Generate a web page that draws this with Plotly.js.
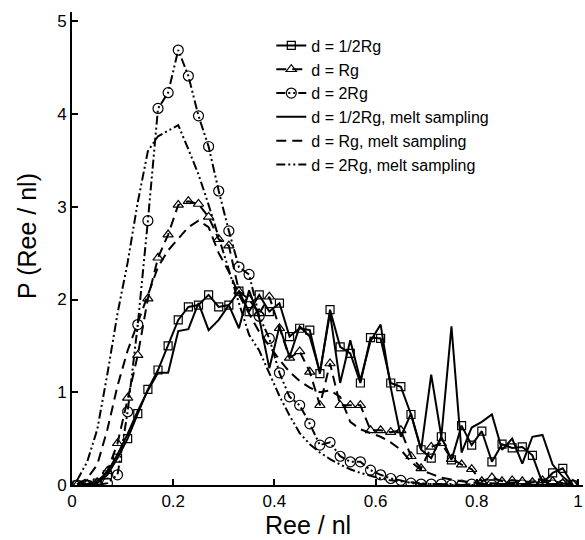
<!DOCTYPE html>
<html>
<head>
<meta charset="utf-8">
<script src="https://cdn.plot.ly/plotly-3.0.1.min.js"></script>
<style>html,body{margin:0;padding:0;background:#fff;}#chart{width:585px;height:540px;}</style>
</head>
<body>
<div id="chart"></div>
<script>
// Ree / nl bin centres
const xVals = [0.01,0.03,0.05,0.07,0.09,0.11,0.13,0.15,0.17,0.19,0.21,0.23,0.25,0.27,0.29,0.31,0.33,0.35,0.37,0.39,0.41,0.43,0.45,0.47,0.49,0.51,0.53,0.55,0.57,0.59,0.61,0.63,0.65,0.67,0.69,0.71,0.73,0.75,0.77,0.79,0.81,0.83,0.85,0.87,0.89,0.91,0.93,0.95,0.97,0.99];

// d = 1/2Rg (squares)
const halfRg = [0,0,0.02,0.11,0.29,0.50,0.77,1.03,1.24,1.50, 1.78,1.92,1.94,2.05,1.92,1.94,2.09,1.87,2.05,1.87, 1.96,1.60,1.69,1.67,1.20,1.89,1.49,1.42,1.10,1.59, 1.58,1.10,1.06,0.76,0.38,0.29,0.52,0.27,0.64,0.43, 0.58,0.25,0.44,0.40,0.41,0.32,0.02,0.13,0.18,0.0];
// d = Rg (triangles)
const oneRg = [0,0.01,0.03,0.15,0.45,0.94,1.40,2.01,2.45,2.70, 3.02,3.06,3.03,2.89,2.65,2.58,2.09,2.00,1.85,2.03, 1.69,1.37,1.44,1.22,0.86,1.31,0.86,0.86,0.86,0.59, 0.59,0.57,0.59,0.31,0.18,0.41,0.45,0.28,0.22,0.17, 0.04,0.08,0.04,0.05,0.04,0.03,0.05,0.04,0.02,0.01];
// d = 2Rg (circles)
const twoRg = [0,0,0,0.02,0.11,0.79,1.73,2.85,4.06,4.23, 4.69,4.41,3.98,3.65,3.17,2.74,2.35,2.27,1.82,1.58, 1.21,0.95,0.86,0.66,0.43,0.46,0.31,0.25,0.25,0.16, 0.11,0.07,0.05,0.02,0.01,0.01,0.01,0,0,0.01, 0,0,0,0,0,0,0,0,0,0];
// melt sampling
const halfRgMelt = [0,0.01,0.04,0.14,0.33,0.55,0.80,1.02,1.21,1.21, 1.66,1.68,1.96,1.67,1.78,1.94,1.69,2.10,1.80,1.26, 1.71,1.38,1.71,1.60,1.22,1.85,1.10,1.56,1.13,1.55, 1.73,1.05,0.52,0.77,0.38,1.19,0.52,1.71,0.35,0.62, 0.68,0.76,0.38,0.50,0.23,0.52,0.54,0.22,0.09,0.0];
const oneRgMelt = [0.01,0.07,0.22,0.60,1.07,1.45,1.75,2.05,2.35,2.53, 2.65,2.78,2.85,2.78,2.50,2.30,2.05,1.85,1.65,1.50, 1.35,1.22,1.12,1.05,1.00,1.02,0.95,0.68,0.60,0.56, 0.52,0.46,0.38,0.25,0.16,0.12,0.08,0.06,0.04,0.03, 0.02,0.02,0.01,0.01,0.01,0.01,0,0,0,0];
const twoRgMelt = [0.05,0.25,0.60,1.20,1.85,2.40,3.05,3.60,3.76,3.82, 3.88,3.62,3.35,3.02,2.68,2.32,1.96,1.62,1.45,1.20, 0.96,0.75,0.56,0.44,0.35,0.28,0.22,0.17,0.13,0.10, 0.07,0.05,0.04,0.03,0.02,0.01,0.01,0.01,0,0, 0,0,0,0,0,0,0,0,0,0];

const names = ['d = 1/2Rg','d = Rg','d = 2Rg','d = 1/2Rg, melt sampling','d = Rg, melt sampling','d = 2Rg, melt sampling'];
const xTicks = [0,0.2,0.4,0.6,0.8,1];
const yTicks = [0,1,2,3,4,5];
const xTitle = 'Ree / nl';
const yTitle = 'P (Ree / nl)';

const DASH = '10px,6px';
const DDOT = '9px,3px,2px,3px,2px,3px';
const series = [halfRg, oneRg, twoRg, halfRgMelt, oneRgMelt, twoRgMelt];
const dashes = ['solid', DASH, DDOT, 'solid', DASH, DDOT];
const symbols = ['square-open','triangle-up-open','circle-open',null,null,null];
const sizes = [8,9,10,0,0,0];

const traces = series.map((y,i)=>{
  const t = {
    x: xVals, y: y, name: names[i], type: 'scatter',
    mode: symbols[i] ? 'lines+markers' : 'lines',
    line: {color:'#000', width:2, dash: dashes[i]}
  };
  if (symbols[i]) t.marker = {symbol: symbols[i], size: sizes[i], color:'#000', line:{color:'#000', width:1.2}};
  return t;
});

const font = 'Liberation Sans, Arial, Helvetica, sans-serif';
const layout = {
  width: 585, height: 540,
  margin: {l:72, r:2, t:12, b:55},
  paper_bgcolor:'#fff', plot_bgcolor:'#fff',
  font: {family: font, size: 16, color:'#000'},
  showlegend: true,
  legend: {x:0.39, y:0.965, xanchor:'left', yanchor:'top', bgcolor:'rgba(0,0,0,0)', font:{size:16}, tracegroupgap:0},
  xaxis: {
    range:[0,1.01], tickvals:xTicks, ticktext:xTicks.map(String), ticks:'inside', ticklen:6, tickwidth:2, tickcolor:'#000',
    showline:true, linewidth:2, linecolor:'#000', showgrid:false, zeroline:false,
    tickfont:{size:17}
  },
  yaxis: {
    range:[0,5.1], tickvals:yTicks, ticktext:yTicks.map(String), ticks:'inside', ticklen:6, tickwidth:2, tickcolor:'#000',
    showline:true, linewidth:2, linecolor:'#000', showgrid:false, zeroline:false,
    tickfont:{size:17}
  },
  annotations: [
    {text:xTitle, xref:'paper', yref:'paper', x:(308-72)/511, y:-(525-485)/473, xanchor:'center', yanchor:'middle', showarrow:false, font:{size:25}},
    {text:yTitle, xref:'paper', yref:'paper', x:-(72-27)/511, y:(485-236)/473, xanchor:'center', yanchor:'middle', textangle:-90, showarrow:false, font:{size:25}}
  ]
};
Plotly.newPlot('chart', traces, layout, {displayModeBar:false, staticPlot:true});
</script>
</body>
</html>
